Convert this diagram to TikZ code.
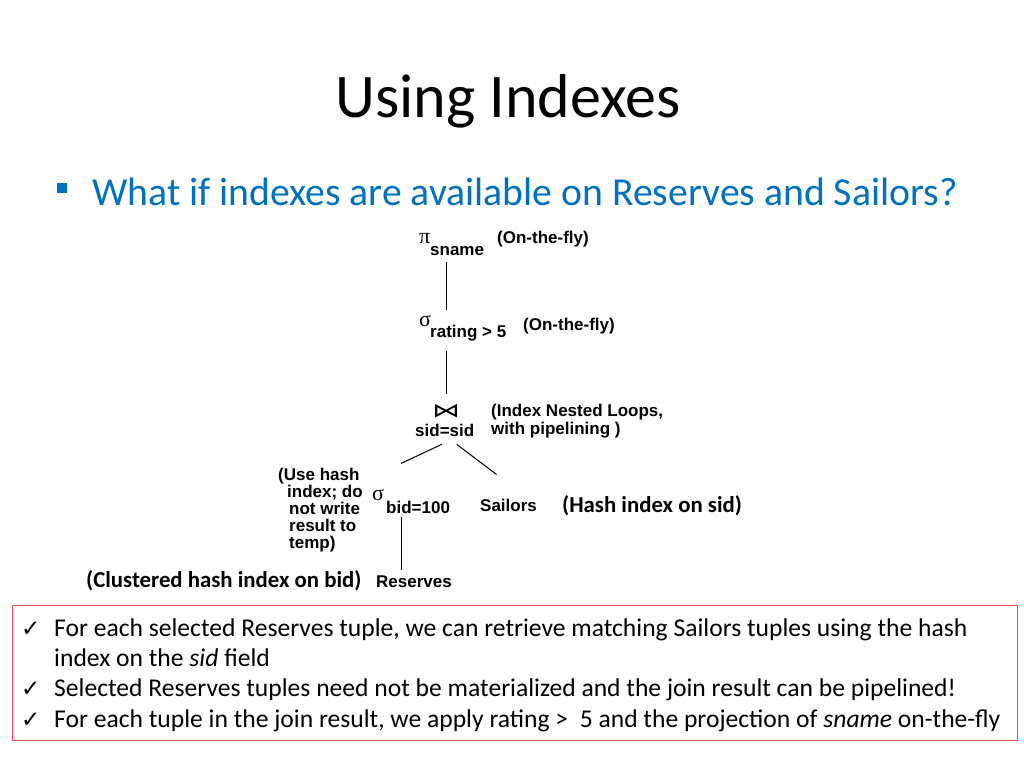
\documentclass[tikz,border=0pt]{standalone}
\usepackage{fontspec}
\setmainfont{Carlito}
\newfontfamily\hvfont{Liberation Sans}
\newfontfamily\djfont{DejaVu Sans}
\newfontfamily\symfnt{Liberation Serif}
\usetikzlibrary{calc}
\definecolor{titleblue}{RGB}{0,112,192}
\definecolor{boxred}{RGB}{232,80,80}
\begin{document}
\begin{tikzpicture}[x=1pt,y=-1pt,
  txt/.style={inner sep=0pt,anchor=base west},
  hvb/.style={txt,font=\hvfont\bfseries\fontsize{17}{18}\selectfont},
  cal/.style={txt,font=\bfseries\fontsize{22.8}{24}\selectfont},
  note/.style={txt,font=\fontsize{25.6}{28}\selectfont},
  chk/.style={txt,font=\djfont\fontsize{23}{23}\selectfont},
  opsym/.style={txt,font=\symfnt\fontsize{22}{22}\selectfont},
  edge/.style={draw,line width=1pt}]
\useasboundingbox[fill=white] (0,0) rectangle (1024,768);
% title
\node[inner sep=0pt,anchor=base] (title) at (508,117) {\fontsize{62}{64}\selectfont Using Indexes};
% bullet
\fill[titleblue] (57,183) rectangle (67,193);
\node[txt,text=titleblue,font=\fontsize{39.7}{42}\selectfont] (q) at (92,205) {What if indexes are available on Reserves and Sailors?};
% projection
\node[opsym] (pi) at (419,243) {π};
\node[hvb] (sname) at (430,255) {sname};
\node[hvb] (fly1) at (497,243) {(On-the-fly)};
% selection rating
\node[opsym] (sig1) at (419,326) {σ};
\node[hvb] (rating) at (430,337) {rating > 5};
\node[hvb] (fly2) at (523,330) {(On-the-fly)};
% join
\node[inner sep=0pt,anchor=base,font=\djfont\fontsize{20}{20}\selectfont,xscale=1.4,transform shape] (join) at (446,417) {⋈};
\node[hvb] (sidsid) at (415,436) {sid=sid};
\node[hvb] (inl1) at (491,416) {(Index Nested Loops,};
\node[hvb] (inl2) at (491,434) {with pipelining )};
% selection bid
\node[opsym] (sig2) at (372,500) {σ};
\node[hvb] (bid) at (386,513) {bid=100};
\node[hvb] (sailors) at (480,511) {Sailors};
\node[cal] (hashsid) at (562,512) {(Hash index on sid)};
\node[hvb] (uh1) at (278,480) {(Use hash};
\node[hvb] (uh2) at (287,497) {index; do};
\node[hvb] (uh3) at (289,514) {not write};
\node[hvb] (uh4) at (289,531) {result to};
\node[hvb] (uh5) at (289,548) {temp)};
\node[cal] (clust) at (86,587) {(Clustered hash index on bid)};
\node[hvb] (reserves) at (376,587) {Reserves};
% connectors
\coordinate (a1) at ($(sname.south west)+(16,7)$);
\coordinate (a2) at ($(rating.north west)+(16,-14)$);
\draw[edge] (a1) -- (a1 |- a2);
\coordinate (b1) at ($(rating.south west)+(16,10)$);
\coordinate (b2) at ($(join.north)+(0,-10)$);
\draw[edge] (b1) -- (b1 |- b2);
\draw[edge] ($(sidsid.south)+(-3,8)$) -- ($(bid.north west)+(15,-37)$);
\draw[edge] ($(sidsid.south)+(12,8)$) -- ($(sailors.north)+(-12,-24)$);
\coordinate (c1) at ($(bid.south west)+(15,4)$);
\coordinate (c2) at ($(reserves.north)+(0,-5)$);
\draw[edge] (c1) -- (c1 |- c2);
% bottom box
\draw[boxred,line width=1pt] (12,605) rectangle (1017,740);
\node[chk] (k1) at (21,636) {✓};
\node[note] (n1) at (54,636) {For each selected Reserves tuple, we can retrieve matching Sailors tuples using the hash};
\node[note] (n2) at (54,666) {index on the \textit{sid} field};
\node[chk] (k2) at (21,696) {✓};
\node[note] (n3) at (54,696) {Selected Reserves tuples need not be materialized and the join result can be pipelined!};
\node[chk] (k3) at (21,727) {✓};
\node[note] (n4) at (54,727) {For each tuple in the join result, we apply rating >\ \ 5 and the projection of \textit{sname} on-the-fly};
\end{tikzpicture}
\end{document}
